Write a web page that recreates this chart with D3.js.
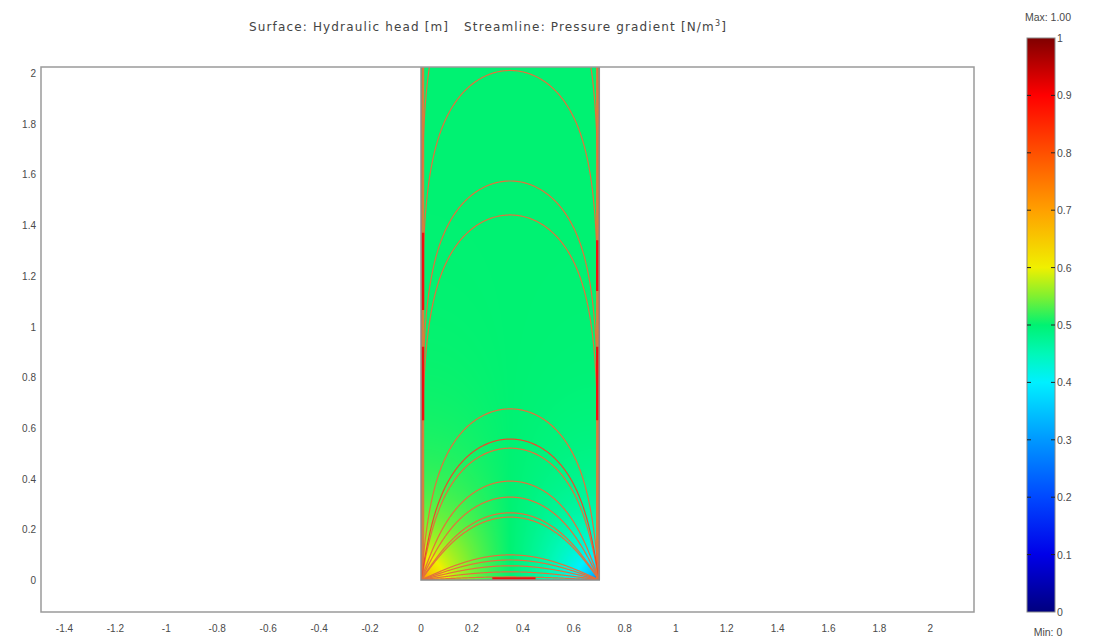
<!DOCTYPE html>
<meta charset="utf-8">
<script src="https://d3js.org/d3.v7.min.js"></script>
<style>
  body { margin: 0; background: #fff; }
  text { font-family: "Liberation Sans", Arial, sans-serif; fill: #4a4a4a; }
</style>
<body>
<svg id="chart" width="1101" height="639"></svg>
<script>
// ---- data ----
var xTicks = [-1.4, -1.2, -1, -0.8, -0.6, -0.4, -0.2, 0, 0.2, 0.4, 0.6, 0.8, 1, 1.2, 1.4, 1.6, 1.8, 2];
var xTickLabels = ["-1.4", "-1.2", "-1", "-0.8", "-0.6", "-0.4", "-0.2", "0", "0.2", "0.4", "0.6", "0.8", "1", "1.2", "1.4", "1.6", "1.8", "2"];
var yTicks = [0, 0.2, 0.4, 0.6, 0.8, 1, 1.2, 1.4, 1.6, 1.8, 2];
var yTickLabels = ["0", "0.2", "0.4", "0.6", "0.8", "1", "1.2", "1.4", "1.6", "1.8", "2"];
var barTicks = [0, 0.1, 0.2, 0.3, 0.4, 0.5, 0.6, 0.7, 0.8, 0.9, 1];
var barTickLabels = ["0", "0.1", "0.2", "0.3", "0.4", "0.5", "0.6", "0.7", "0.8", "0.9", "1"];

// domain: 0.7 wide, 2 high; source at (0,0), sink at (0.7,0)
var domainWidth = 0.7, domainHeight = 2.03;
var headMid = 0.5, headStrength = 0.032;

// streamline peak heights (m), read at the centre line
var streamHeights = [0.012, 0.032, 0.056, 0.079, 0.099, 0.248, 0.265, 0.327, 0.39, 0.52, 0.556, 0.675, 1.44, 1.574, 2.01, 2.45, 2.8];
var strongStreams = [0.556];
// red stretches of the wall streamlines
var leftWallRed = [[0.63, 0.92], [1.065, 1.37]];
var rightWallRed = [[0.63, 0.92], [1.14, 1.34]];
var bottomRed = [[0.28, 0.45]];

// colour table (rainbow)
var cmapStops = [0, 0.1, 0.2, 0.3, 0.4, 0.45, 0.5, 0.55, 0.6, 0.7, 0.8, 0.9, 1];
var cmapColors = ["#00007f", "#0000e8", "#0048ff", "#0098ff", "#00f0ff", "#00f8b8", "#00f272", "#80f030", "#f0f000", "#ffa000", "#ff5000", "#ff0000", "#800000"];

// ---- layout ----
var svg = d3.select("#chart");
var plot = {left: 41, top: 67, right: 974, bottom: 612};

var x = d3.scaleLinear().domain([0, 0.2]).range([421, 421 + 50.94]);
var y = d3.scaleLinear().domain([0, 0.2]).range([580, 580 - 50.7]);
x.domain([x.invert(plot.left), x.invert(plot.right)]).range([plot.left, plot.right]);
y.domain([y.invert(plot.bottom), y.invert(plot.top)]).range([plot.bottom, plot.top]);

var color = d3.scaleLinear().domain(cmapStops).range(cmapColors).clamp(true);

// potential flow in half strip, mapped with zeta = cos(pi z / a)
function zeta(px, py) {
  var A = Math.PI * px / domainWidth, B = Math.PI * py / domainWidth;
  return [Math.cos(A) * Math.cosh(B), -Math.sin(A) * Math.sinh(B)];
}
function streamFn(px, py) {
  var z = zeta(px, py);
  return Math.atan2(2 * z[1], z[0] * z[0] + z[1] * z[1] - 1);
}
function head(px, py) {
  var z = zeta(px, py);
  var r1 = Math.hypot(z[0] - 1, z[1]), r2 = Math.hypot(z[0] + 1, z[1]);
  return headMid - headStrength * Math.log(r1 / r2);
}

// ---- title ----
var title = svg.append("text")
    .attr("x", 488).attr("y", 31)
    .attr("text-anchor", "middle")
    .style("font-family", "'DejaVu Sans', sans-serif")
    .style("font-size", "12px")
    .style("fill", "#444");
title.append("tspan").text("Surface: Hydraulic head [m]\u00a0\u00a0\u00a0Streamline: Pressure gradient [N/m");
title.append("tspan").attr("dy", -5).style("font-size", "8px").text("3");
title.append("tspan").attr("dy", 5).text("]");
var tlen = title.node().getComputedTextLength();
var nch = title.text().length;
title.style("letter-spacing", Math.max(0, (478 - tlen) / nch) + "px");

// ---- plot frame ----
svg.append("clipPath").attr("id", "frameClip").append("rect")
    .attr("x", plot.left).attr("y", plot.top)
    .attr("width", plot.right - plot.left).attr("height", plot.bottom - plot.top);

// surface (hydraulic head) drawn pixel by pixel
var fx0 = Math.round(x(0)), fx1 = Math.round(x(domainWidth));
var fy0 = Math.round(y(domainHeight)), fy1 = Math.round(y(0));
var canvas = document.createElement("canvas");
canvas.width = fx1 - fx0; canvas.height = fy1 - fy0;
var ctx = canvas.getContext("2d");
var img = ctx.createImageData(canvas.width, canvas.height);
for (var j = 0; j < canvas.height; j++) {
  for (var i = 0; i < canvas.width; i++) {
    var c = d3.rgb(color(head(x.invert(fx0 + i + 0.5), y.invert(fy0 + j + 0.5))));
    var k = (j * canvas.width + i) * 4;
    img.data[k] = c.r; img.data[k + 1] = c.g; img.data[k + 2] = c.b; img.data[k + 3] = 255;
  }
}
ctx.putImageData(img, 0, 0);

var g = svg.append("g").attr("clip-path", "url(#frameClip)");
g.append("image")
    .attr("x", fx0).attr("y", fy0)
    .attr("width", canvas.width).attr("height", canvas.height)
    .attr("preserveAspectRatio", "none")
    .attr("href", canvas.toDataURL());

// streamlines
svg.append("clipPath").attr("id", "domClip").append("rect")
    .attr("x", x(0)).attr("y", plot.top)
    .attr("width", x(domainWidth) - x(0)).attr("height", y(0) - plot.top);

function traceStream(h) {
  var target = streamFn(domainWidth / 2, h);
  var pts = [];
  var n = 240;
  for (var s = 0; s <= n; s++) {
    var py = h * Math.sin(Math.PI / 2 * s / n);
    var lo = 0, hi = domainWidth / 2;
    for (var it = 0; it < 60; it++) {
      var mid = (lo + hi) / 2;
      if (streamFn(mid, py) > target) lo = mid; else hi = mid;
    }
    pts.push([(lo + hi) / 2, py]);
  }
  var right = pts.slice().reverse().map(function(p) { return [domainWidth - p[0], p[1]]; });
  return pts.concat(right.slice(1));
}

var line = d3.line().x(function(d) { return x(d[0]); }).y(function(d) { return y(d[1]); });
var sg = svg.append("g").attr("clip-path", "url(#domClip)");

// wall streamlines
sg.selectAll("line.wall").data([0, domainWidth]).enter().append("line")
    .attr("x1", function(d) { return x(d) + (d === 0 ? 2 : -2); })
    .attr("x2", function(d) { return x(d) + (d === 0 ? 2 : -2); })
    .attr("y1", y(0)).attr("y2", plot.top)
    .attr("stroke", "#d5813f").attr("stroke-width", 2.5);

sg.selectAll("path.stream").data(streamHeights).enter().append("path")
    .attr("class", "stream")
    .attr("d", function(h) { return line(traceStream(h)); })
    .attr("fill", "none")
    .attr("stroke", function(h) { return strongStreams.indexOf(h) >= 0 ? "#ea4a2a" : "#e2713c"; })
    .attr("stroke-width", 1.2);

sg.selectAll("line.lred").data(leftWallRed).enter().append("line")
    .attr("x1", x(0) + 2).attr("x2", x(0) + 2)
    .attr("y1", function(d) { return y(d[0]); }).attr("y2", function(d) { return y(d[1]); })
    .attr("stroke", "#f01010").attr("stroke-width", 2.5);
sg.selectAll("line.rred").data(rightWallRed).enter().append("line")
    .attr("x1", x(domainWidth) - 2).attr("x2", x(domainWidth) - 2)
    .attr("y1", function(d) { return y(d[0]); }).attr("y2", function(d) { return y(d[1]); })
    .attr("stroke", "#f01010").attr("stroke-width", 2.5);
sg.selectAll("line.bred").data(bottomRed).enter().append("line")
    .attr("x1", function(d) { return x(d[0]); }).attr("x2", function(d) { return x(d[1]); })
    .attr("y1", y(0) - 1.5).attr("y2", y(0) - 1.5)
    .attr("stroke", "#f01010").attr("stroke-width", 2.5);

// domain boundary
svg.append("path")
    .attr("d", line([[0, y.domain()[1]], [0, 0], [domainWidth, 0], [domainWidth, y.domain()[1]]]))
    .attr("fill", "none").attr("stroke", "#8a8a8a").attr("stroke-width", 1.5);

svg.append("rect")
    .attr("x", plot.left).attr("y", plot.top)
    .attr("width", plot.right - plot.left).attr("height", plot.bottom - plot.top)
    .attr("fill", "none").attr("stroke", "#9a9a9a").attr("stroke-width", 1.5);

// axes labels (no tick marks)
svg.append("g").selectAll("text").data(xTicks).enter().append("text")
    .attr("x", function(d) { return x(d); })
    .attr("y", 632)
    .attr("text-anchor", "middle")
    .style("font-size", "10px")
    .text(function(d, i) { return xTickLabels[i]; });

svg.append("g").selectAll("text").data(yTicks).enter().append("text")
    .attr("x", 36)
    .attr("y", function(d) { return y(d) + 4; })
    .attr("text-anchor", "end")
    .style("font-size", "10px")
    .text(function(d, i) { return yTickLabels[i]; });

// ---- colour bar ----
var bar = {x: 1027, w: 28, top: 38, bottom: 612};
var yb = d3.scaleLinear().domain([0, 1]).range([bar.bottom, bar.top]);
var grad = svg.append("defs").append("linearGradient")
    .attr("id", "cbar").attr("x1", 0).attr("y1", 1).attr("x2", 0).attr("y2", 0);
grad.selectAll("stop").data(cmapStops).enter().append("stop")
    .attr("offset", function(d) { return d; })
    .attr("stop-color", function(d, i) { return cmapColors[i]; });
svg.append("rect")
    .attr("x", bar.x).attr("y", bar.top).attr("width", bar.w).attr("height", bar.bottom - bar.top)
    .attr("fill", "url(#cbar)").attr("stroke", "#8a8a8a").attr("stroke-width", 1);

var inner = barTicks.filter(function(d) { return d > 0 && d < 1; });
svg.append("g").selectAll("line").data(inner).enter().append("line")
    .attr("x1", bar.x).attr("x2", bar.x + 4)
    .attr("y1", function(d) { return yb(d); }).attr("y2", function(d) { return yb(d); })
    .attr("stroke", "#222");
svg.append("g").selectAll("line").data(inner).enter().append("line")
    .attr("x1", bar.x + bar.w - 4).attr("x2", bar.x + bar.w)
    .attr("y1", function(d) { return yb(d); }).attr("y2", function(d) { return yb(d); })
    .attr("stroke", "#222");
svg.append("g").selectAll("text").data(barTicks).enter().append("text")
    .attr("x", bar.x + bar.w + 2)
    .attr("y", function(d) { return yb(d) + 4; })
    .style("font-size", "10.5px")
    .text(function(d, i) { return barTickLabels[i]; });

svg.append("text").attr("x", 1048).attr("y", 21).attr("text-anchor", "middle")
    .style("font-size", "10.5px").text("Max: 1.00");
svg.append("text").attr("x", 1048).attr("y", 636).attr("text-anchor", "middle")
    .style("font-size", "10.5px").text("Min: 0");
</script>
</body>
